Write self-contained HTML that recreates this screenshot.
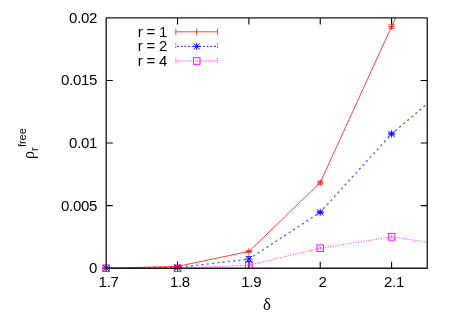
<!DOCTYPE html>
<html><head><meta charset="utf-8"><title>plot</title>
<style>
html,body{margin:0;padding:0;background:#fff;}
body{width:449px;height:315px;overflow:hidden;}
svg{display:block;will-change:transform;opacity:0.999;}
text{font-family:"Liberation Sans",sans-serif;font-size:15px;fill:#000;}
.t{letter-spacing:-0.3px;}
.sym{font-family:"Liberation Serif",serif;}
</style></head><body>
<svg width="449" height="315" viewBox="0 0 449 315">
<rect x="0" y="0" width="449" height="315" fill="#fff"/>
<defs><clipPath id="c"><rect x="106.2" y="17.9" width="321.05" height="250.35"/></clipPath></defs>
<path d="M177.54,268.25 v-6.6 M177.54,17.90 v6.6" stroke="#000" stroke-width="1.1"/>
<path d="M248.89,268.25 v-6.6 M248.89,17.90 v6.6" stroke="#000" stroke-width="1.1"/>
<path d="M320.23,268.25 v-6.6 M320.23,17.90 v6.6" stroke="#000" stroke-width="1.1"/>
<path d="M391.58,268.25 v-6.6 M391.58,17.90 v6.6" stroke="#000" stroke-width="1.1"/>
<path d="M106.20,205.66 h6.6 M427.25,205.66 h-6.6" stroke="#000" stroke-width="1.1"/>
<path d="M106.20,143.07 h6.6 M427.25,143.07 h-6.6" stroke="#000" stroke-width="1.1"/>
<path d="M106.20,80.49 h6.6 M427.25,80.49 h-6.6" stroke="#000" stroke-width="1.1"/>
<g clip-path="url(#c)" fill="none" stroke-width="0.75">
<path d="M106.20,268.25 L177.54,266.37 L248.89,251.48 L320.23,182.63 L391.58,26.54 L462.92,-132.31" stroke="#ff0000"/>
<path d="M106.20,268.25 L177.54,267.62 L248.89,259.11 L320.23,212.30 L391.58,133.94 L462.92,73.60" stroke="#0000ff" stroke-width="1.4" stroke-opacity="0.62" stroke-dasharray="2.2,3.1"/>
<path d="M106.20,268.25 L177.54,268.25 L248.89,265.12 L320.23,248.22 L391.58,236.83 L462.92,247.72" stroke="#ff00ff" stroke-dasharray="1.2,1.37"/>
</g>
<g stroke-width="0.75">
<rect x="102.90" y="264.95" width="6.60" height="6.60" stroke="#ff00ff" stroke-width="0.95" fill="none"/><path d="M104.40,267.35 h3.6 M104.40,269.15 h3.6 M106.20,267.35 v1.8" stroke="#ff00ff" stroke-width="0.6" stroke-opacity="0.75" fill="none"/>
<rect x="174.24" y="264.95" width="6.60" height="6.60" stroke="#ff00ff" stroke-width="0.95" fill="none"/><path d="M175.74,267.35 h3.6 M175.74,269.15 h3.6 M177.54,267.35 v1.8" stroke="#ff00ff" stroke-width="0.6" stroke-opacity="0.75" fill="none"/>
<rect x="245.59" y="261.82" width="6.60" height="6.60" stroke="#ff00ff" stroke-width="0.95" fill="none"/><path d="M247.09,264.22 h3.6 M247.09,266.02 h3.6 M248.89,264.22 v1.8" stroke="#ff00ff" stroke-width="0.6" stroke-opacity="0.75" fill="none"/>
<rect x="316.93" y="244.92" width="6.60" height="6.60" stroke="#ff00ff" stroke-width="0.95" fill="none"/><path d="M318.43,247.32 h3.6 M318.43,249.12 h3.6 M320.23,247.32 v1.8" stroke="#ff00ff" stroke-width="0.6" stroke-opacity="0.75" fill="none"/>
<rect x="388.28" y="233.53" width="6.60" height="6.60" stroke="#ff00ff" stroke-width="0.95" fill="none"/><path d="M389.78,235.93 h3.6 M389.78,237.73 h3.6 M391.58,235.93 v1.8" stroke="#ff00ff" stroke-width="0.6" stroke-opacity="0.75" fill="none"/>
<path d="M102.60,268.25 h7.20 M106.20,264.65 v7.20 M103.10,265.15 l6.20,6.20 M103.10,271.35 l6.20,-6.20" stroke="#0000ff" stroke-width="0.95" fill="none"/>
<path d="M173.94,267.62 h7.20 M177.54,264.02 v7.20 M174.44,264.52 l6.20,6.20 M174.44,270.72 l6.20,-6.20" stroke="#0000ff" stroke-width="0.95" fill="none"/>
<path d="M245.69,256.51 h6.4 M245.69,261.71 h6.4" stroke="#0000ff" stroke-width="0.7" fill="none"/>
<path d="M245.29,259.11 h7.20 M248.89,255.51 v7.20 M245.79,256.01 l6.20,6.20 M245.79,262.21 l6.20,-6.20" stroke="#0000ff" stroke-width="0.95" fill="none"/>
<path d="M317.03,211.30 h6.4 M317.03,213.30 h6.4" stroke="#0000ff" stroke-width="0.7" fill="none"/>
<path d="M316.63,212.30 h7.20 M320.23,208.70 v7.20 M317.13,209.20 l6.20,6.20 M317.13,215.40 l6.20,-6.20" stroke="#0000ff" stroke-width="0.95" fill="none"/>
<path d="M388.38,132.94 h6.4 M388.38,134.94 h6.4" stroke="#0000ff" stroke-width="0.7" fill="none"/>
<path d="M387.98,133.94 h7.20 M391.58,130.34 v7.20 M388.48,130.84 l6.20,6.20 M388.48,137.04 l6.20,-6.20" stroke="#0000ff" stroke-width="0.95" fill="none"/>
<path d="M103.00,267.85 h6.4 M103.00,268.65 h6.4 M103.00,268.25 h6.4 M106.20,264.95 v6.6" stroke="#ff0000" fill="none"/>
<path d="M174.34,265.87 h6.4 M174.34,266.87 h6.4 M174.34,266.37 h6.4 M177.54,263.07 v6.6" stroke="#ff0000" fill="none"/>
<path d="M245.69,250.78 h6.4 M245.69,252.18 h6.4 M245.69,251.48 h6.4 M248.89,248.18 v6.6" stroke="#ff0000" fill="none"/>
<path d="M317.03,181.13 h6.4 M317.03,184.13 h6.4 M317.03,182.63 h6.4 M320.23,179.33 v6.6" stroke="#ff0000" fill="none"/>
<path d="M388.38,24.84 h6.4 M388.38,28.24 h6.4 M388.38,26.54 h6.4 M391.58,23.24 v6.6" stroke="#ff0000" fill="none"/>
</g>
<g stroke-width="0.75">
<path d="M175.80,31.80 H217.60 M175.80,28.60 v6.4 M217.60,28.60 v6.4 M196.70,28.70 v6.2" stroke="#ff0000" fill="none"/>
<path d="M175.80,46.40 H217.60" stroke="#0000ff" stroke-width="1.3" stroke-opacity="0.75" fill="none" stroke-dasharray="1.9,1.8" stroke-dashoffset="-1.2"/>
<path d="M175.80,43.40 v6 M217.60,43.40 v6" stroke="#0000ff" fill="none" stroke-dasharray="1.5,1.5"/>
<path d="M193.10,46.40 h7.20 M196.70,42.80 v7.20 M193.60,43.30 l6.20,6.20 M193.60,49.50 l6.20,-6.20" stroke="#0000ff" stroke-width="0.95" fill="none"/>
<path d="M175.80,61.00 H217.60" stroke="#ff00ff" fill="none" stroke-dasharray="1,0.9"/>
<path d="M175.80,58.00 v6 M217.60,58.00 v6" stroke="#ff00ff" fill="none" stroke-dasharray="1,1"/>
<rect x="193.40" y="57.70" width="6.60" height="6.60" stroke="#ff00ff" stroke-width="0.95" fill="none"/>
</g>
<rect x="106.2" y="17.9" width="321.05" height="250.35" fill="none" stroke="#1a1a1a" stroke-width="1.35" stroke-linejoin="round"/>
<text class="t" x="108.60" y="287.30" text-anchor="middle">1.7</text>
<text class="t" x="179.94" y="287.30" text-anchor="middle">1.8</text>
<text class="t" x="251.29" y="287.30" text-anchor="middle">1.9</text>
<text class="t" x="322.63" y="287.30" text-anchor="middle">2</text>
<text class="t" x="393.98" y="287.30" text-anchor="middle">2.1</text>
<text class="t" x="97.10" y="273.25" text-anchor="end">0</text>
<text class="t" x="97.10" y="210.66" text-anchor="end">0.005</text>
<text class="t" x="97.10" y="148.07" text-anchor="end">0.01</text>
<text class="t" x="97.10" y="85.49" text-anchor="end">0.015</text>
<text class="t" x="97.10" y="22.90" text-anchor="end">0.02</text>
<text x="167.4" y="36.80" text-anchor="end" style="word-spacing:-0.35px">r = 1</text>
<text x="167.4" y="51.40" text-anchor="end" style="word-spacing:-0.35px">r = 2</text>
<text x="167.4" y="66.00" text-anchor="end" style="word-spacing:-0.35px">r = 4</text>
<text class="sym" x="266.8" y="309.5" text-anchor="middle" style="font-size:16.6px">&#948;</text>
<g transform="translate(34.5,158.2) rotate(-90)">
<text class="sym" x="-0.8" y="-1.0" style="font-size:16px">&#961;</text>
<text x="7.2" y="3.45" style="font-size:11px">r</text>
<text x="11.1" y="-8.4" style="font-size:11px">free</text>
</g>
</svg>
</body></html>
